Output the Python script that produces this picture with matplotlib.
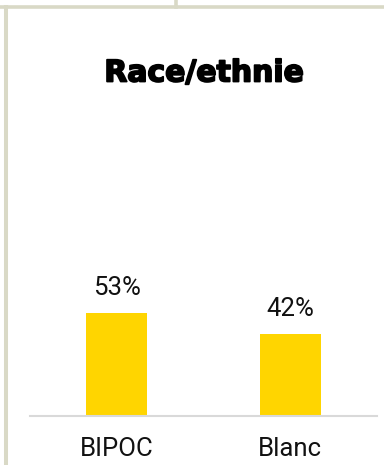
import matplotlib.pyplot as plt
import matplotlib.patheffects as pe
from matplotlib.lines import Line2D

# data
categories = ["BIPOC", "Blanc"]
values = [53, 42]
title = "Race/ethnie"

W, H, DPI = 384, 465, 100
fig = plt.figure(figsize=(W / DPI, H / DPI), dpi=DPI)
fig.patch.set_facecolor("white")

# frame decorations (card borders)
border = "#d9d9c6"
fig.add_artist(Line2D([0, 1], [1 - 7.5 / H, 1 - 7.5 / H], color=border, lw=2.6))
fig.add_artist(Line2D([5.5 / W, 5.5 / W], [0, 1 - 7.5 / H], color=border, lw=2.9))
fig.add_artist(Line2D([176 / W, 176 / W], [1 - 7.5 / H, 1], color=border, lw=2.6))

# axes: x 30..377 px, y 200..416 px (from top)
left, right = 30 / W, 377 / W
bottom, top = 1 - 416 / H, 1 - 200 / H
ax = fig.add_axes([left, bottom, right - left, top - bottom])
ax.set_facecolor("none")

x = list(range(len(categories)))
ax.bar(x, values, width=0.35, color="#ffd500", zorder=2)
ax.set_xlim(-0.5, 1.5)
ax.set_ylim(0, 216 / (103 / 53))

for xi, v in zip(x, values):
    ax.text(xi, v + 9.3, f"{v}%", ha="center", va="baseline",
            fontsize=18.5, family="Roboto", color="#111111")

for s in ["top", "right", "left"]:
    ax.spines[s].set_visible(False)
ax.spines["bottom"].set_color("#d9d9d9")
ax.spines["bottom"].set_linewidth(1.5)
ax.set_yticks([])
ax.set_xticks(x)
ax.set_xticklabels(categories, fontsize=18.5, family="Roboto", color="#111111")
ax.tick_params(axis="x", length=0, pad=15)

# heavy title (stroke to mimic a black-weight font)
fig.text(204 / W, 1 - 73 / H, title, ha="center", va="center",
         fontsize=21.5, family="DejaVu Sans", fontweight="heavy", color="black",
         path_effects=[pe.withStroke(linewidth=1.3, foreground="black")])

fig.savefig("out.png", dpi=DPI)
